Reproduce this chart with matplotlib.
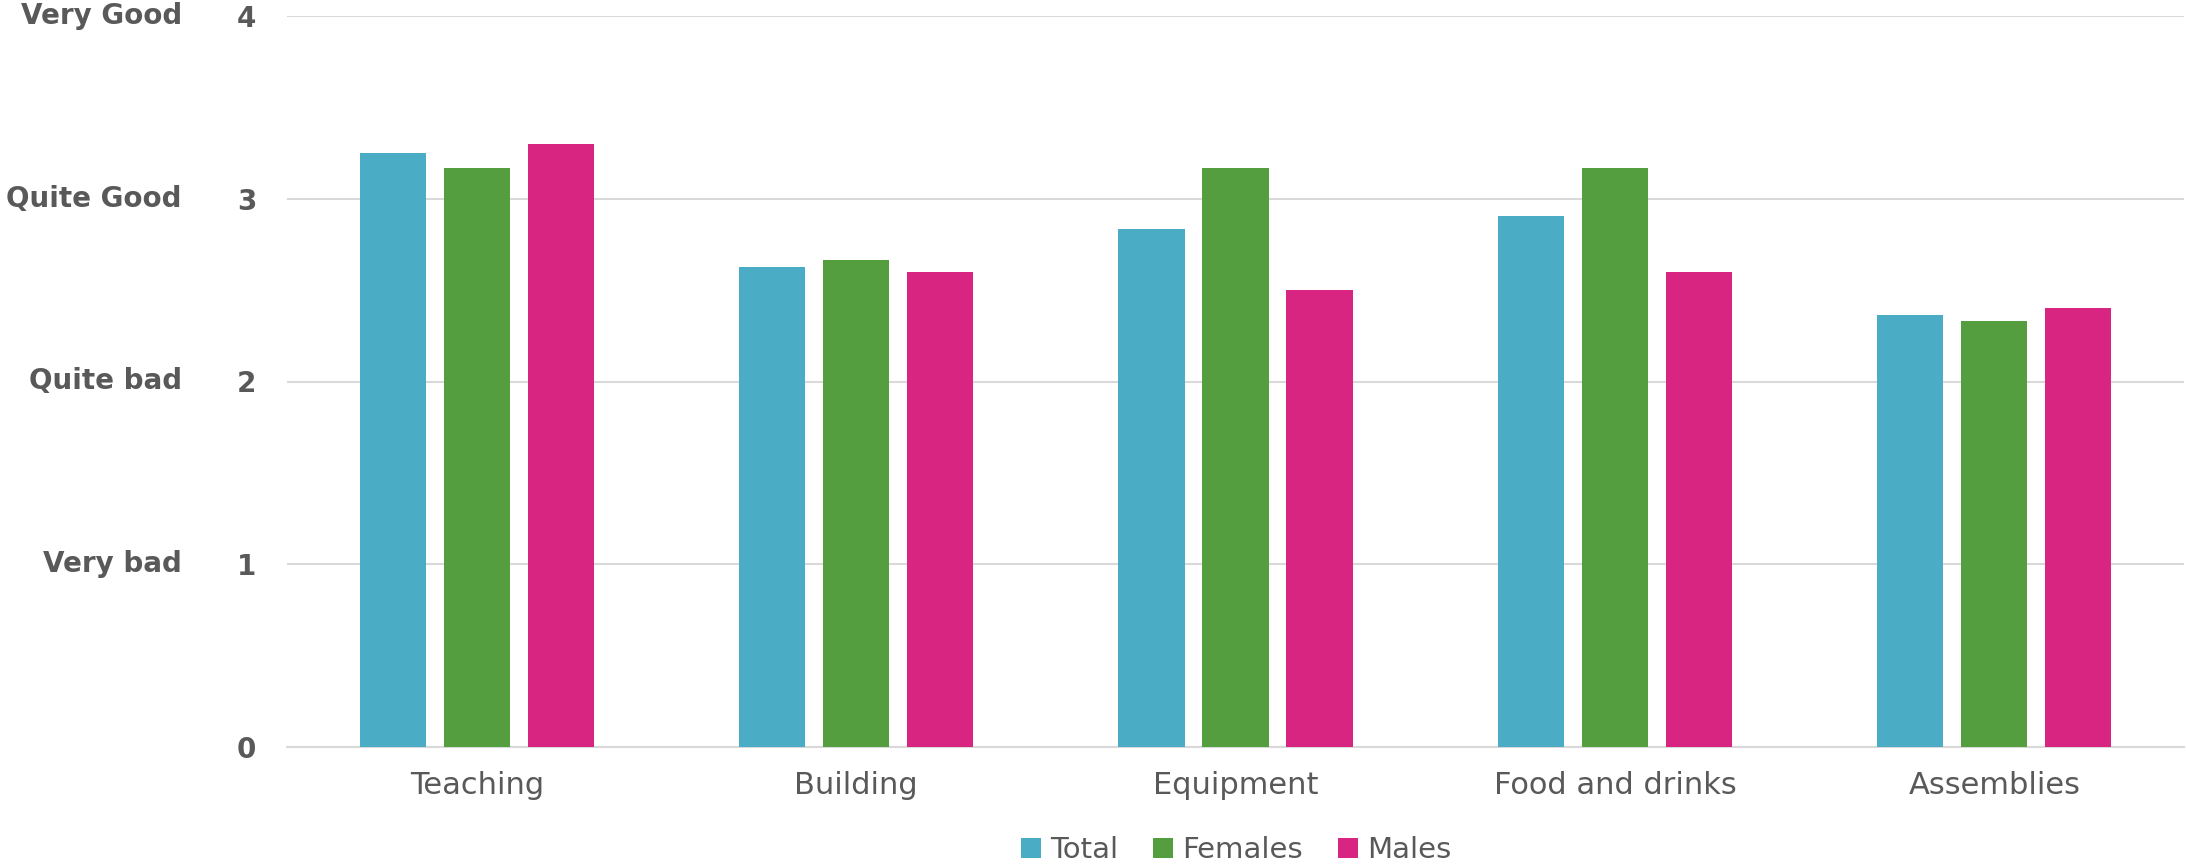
import matplotlib
matplotlib.use("Agg")
import matplotlib.pyplot as plt
import matplotlib.transforms as mtransforms
import numpy as np

categories = ["Teaching", "Building", "Equipment", "Food and drinks", "Assemblies"]
series_names = ["Total", "Females", "Males"]
total = [3.25, 2.625, 2.833, 2.905, 2.362]
females = [3.167, 2.667, 3.167, 3.167, 2.333]
males = [3.30, 2.60, 2.50, 2.60, 2.40]
ytick_values = [0, 1, 2, 3, 4]
rating_labels = ["Very bad", "Quite bad", "Quite Good", "Very Good"]
rating_positions = [1, 2, 3, 4]

colors = ["#4BACC6", "#559E3F", "#D82582"]
text_color = "#595959"
grid_color = "#D9D9D9"

plt.rcParams['font.family'] = ['DejaVu Sans']

fig = plt.figure(figsize=(21.86, 8.65), dpi=100)
ax = fig.add_axes([287/2186, 1-747/865, (2184-287)/2186, (747-16)/865])

x = np.arange(len(categories))
w = 0.174
off = 0.2214
for i, (vals, name) in enumerate(zip([total, females, males], series_names)):
    ax.bar(x + (i-1)*off, vals, width=w, color=colors[i], label=name, zorder=3)

ax.set_xlim(-0.5, len(categories)-0.5)
ax.set_ylim(0, 4)
ax.set_yticks(ytick_values)
ax.set_yticklabels([str(v) for v in ytick_values], fontsize=20, fontweight='bold', color=text_color)
ax.set_xticks(x)
ax.set_xticklabels(categories, fontsize=22, color=text_color)
ax.tick_params(axis='y', length=0, pad=22)
ax.tick_params(axis='x', length=0, pad=17)
ax.yaxis.grid(True, color=grid_color, linewidth=1.5, zorder=0)
for s in ["top", "right", "left"]:
    ax.spines[s].set_visible(False)
ax.spines["bottom"].set_color(grid_color)
ax.spines["bottom"].set_linewidth(1.5)

trans = mtransforms.blended_transform_factory(fig.transFigure, ax.transData)
for lab, pos in zip(rating_labels, rating_positions):
    ax.text(182/2186, pos, lab, transform=trans, ha='right', va='center',
            fontsize=20, fontweight='bold', color=text_color)

leg = fig.legend(loc='center', bbox_to_anchor=(1236/2186, 1-850/865), ncol=3,
                 frameon=False, fontsize=21, handlelength=0.7, handleheight=0.7,
                 handletextpad=0.3, columnspacing=1.2, labelcolor=text_color)

fig.savefig("out.png", dpi=100)
